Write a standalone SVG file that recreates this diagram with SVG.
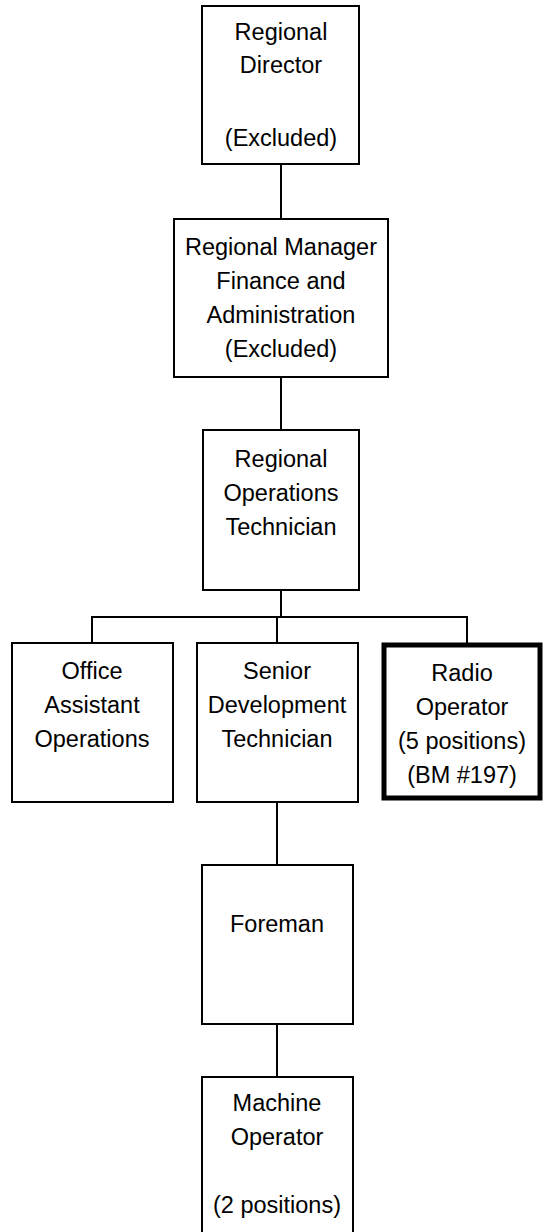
<svg xmlns="http://www.w3.org/2000/svg" width="543" height="1232" viewBox="0 0 543 1232">
<style>
.box{fill:#fff;stroke:#000;stroke-width:2}
.thick{fill:#fff;stroke:#000;stroke-width:5}
.t{font-family:"Liberation Sans",Arial,sans-serif;font-size:23.5px;fill:#000;text-anchor:middle}
.c{stroke:#000;stroke-width:2;fill:none}
</style>
<rect width="543" height="1232" fill="#fff"/>
<g id="connectors">
<line class="c" x1="281" y1="164" x2="281" y2="219"/>
<line class="c" x1="281" y1="377" x2="281" y2="430"/>
<line class="c" x1="281" y1="590" x2="281" y2="617"/>
<polyline class="c" points="92,643 92,617 467,617 467,643"/>
<line class="c" x1="277" y1="617" x2="277" y2="643"/>
<line class="c" x1="277" y1="802" x2="277" y2="865"/>
<line class="c" x1="277" y1="1024" x2="277" y2="1077"/>
</g>
<g id="regional-director">
<rect class="box" x="202" y="6" width="157" height="158"/>
<text class="t"><tspan x="281" y="40">Regional</tspan><tspan x="281" y="73">Director</tspan><tspan x="281" y="146">(Excluded)</tspan></text>
</g>
<g id="regional-manager">
<rect class="box" x="174" y="219" width="214" height="158"/>
<text class="t"><tspan x="281" y="255">Regional Manager</tspan><tspan x="281" y="289">Finance and</tspan><tspan x="281" y="323">Administration</tspan><tspan x="281" y="357">(Excluded)</tspan></text>
</g>
<g id="regional-ops-tech">
<rect class="box" x="203" y="430" width="156" height="160"/>
<text class="t"><tspan x="281" y="467">Regional</tspan><tspan x="281" y="501">Operations</tspan><tspan x="281" y="535">Technician</tspan></text>
</g>
<g id="office-assistant">
<rect class="box" x="12" y="643" width="161" height="159"/>
<text class="t"><tspan x="92" y="679">Office</tspan><tspan x="92" y="713">Assistant</tspan><tspan x="92" y="747">Operations</tspan></text>
</g>
<g id="senior-dev-tech">
<rect class="box" x="197" y="643" width="161" height="159"/>
<text class="t"><tspan x="277" y="679">Senior</tspan><tspan x="277" y="713">Development</tspan><tspan x="277" y="747">Technician</tspan></text>
</g>
<g id="radio-operator">
<rect class="thick" x="384" y="645" width="156" height="153"/>
<text class="t"><tspan x="462" y="681">Radio</tspan><tspan x="462" y="715">Operator</tspan><tspan x="462" y="749">(5 positions)</tspan><tspan x="462" y="783">(BM #197)</tspan></text>
</g>
<g id="foreman">
<rect class="box" x="202" y="865" width="151" height="159"/>
<text class="t"><tspan x="277" y="932">Foreman</tspan></text>
</g>
<g id="machine-operator">
<rect class="box" x="202" y="1077" width="151" height="160"/>
<text class="t"><tspan x="277" y="1111">Machine</tspan><tspan x="277" y="1145">Operator</tspan><tspan x="277" y="1213">(2 positions)</tspan></text>
</g>
</svg>
